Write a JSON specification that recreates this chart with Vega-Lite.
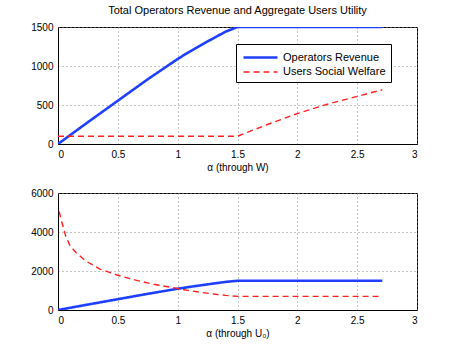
{
  "$schema": "https://vega.github.io/schema/vega-lite/v6.json",
  "padding": {"left": 30, "top": 4, "right": 5, "bottom": 5},
  "spacing": 14,
  "background": "white",
  "config": {
    "font": "Liberation Sans",
    "view": {"stroke": "black", "strokeWidth": 1},
    "axis": {
      "domainColor": "black",
      "labelColor": "black",
      "titleColor": "black",
      "labelFontSize": 10,
      "titleFontSize": 10,
      "titleFontWeight": "normal",
      "grid": true,
      "gridColor": "#888888",
      "gridDash": [1, 3],
      "tickColor": "black",
      "tickSize": 0,
      "labelPadding": 5,
      "titlePadding": 3,
      "format": "~r"
    },
    "title": {"fontSize": 11, "fontWeight": "normal", "color": "black", "offset": 6}
  },
  "datasets": {
    "top": [
      {"alpha": 0, "value": 0, "series": "Operators Revenue"},
      {"alpha": 0.25, "value": 280, "series": "Operators Revenue"},
      {"alpha": 0.5, "value": 555, "series": "Operators Revenue"},
      {"alpha": 0.75, "value": 830, "series": "Operators Revenue"},
      {"alpha": 1, "value": 1090, "series": "Operators Revenue"},
      {"alpha": 1.1, "value": 1185, "series": "Operators Revenue"},
      {"alpha": 1.25, "value": 1315, "series": "Operators Revenue"},
      {"alpha": 1.4, "value": 1440, "series": "Operators Revenue"},
      {"alpha": 1.5, "value": 1500, "series": "Operators Revenue"},
      {"alpha": 2.71, "value": 1500, "series": "Operators Revenue"},
      {"alpha": 0, "value": 100, "series": "Users Social Welfare"},
      {"alpha": 1.5, "value": 100, "series": "Users Social Welfare"},
      {"alpha": 1.75, "value": 250, "series": "Users Social Welfare"},
      {"alpha": 2, "value": 390, "series": "Users Social Welfare"},
      {"alpha": 2.25, "value": 510, "series": "Users Social Welfare"},
      {"alpha": 2.5, "value": 610, "series": "Users Social Welfare"},
      {"alpha": 2.71, "value": 695, "series": "Users Social Welfare"}
    ],
    "bottom": [
      {"alpha": 0, "value": 0, "series": "Operators Revenue"},
      {"alpha": 0.25, "value": 280, "series": "Operators Revenue"},
      {"alpha": 0.5, "value": 555, "series": "Operators Revenue"},
      {"alpha": 0.75, "value": 830, "series": "Operators Revenue"},
      {"alpha": 1, "value": 1090, "series": "Operators Revenue"},
      {"alpha": 1.1, "value": 1185, "series": "Operators Revenue"},
      {"alpha": 1.25, "value": 1315, "series": "Operators Revenue"},
      {"alpha": 1.4, "value": 1440, "series": "Operators Revenue"},
      {"alpha": 1.5, "value": 1500, "series": "Operators Revenue"},
      {"alpha": 2.71, "value": 1500, "series": "Operators Revenue"},
      {"alpha": 0.01, "value": 5050, "series": "Users Social Welfare"},
      {"alpha": 0.03, "value": 4550, "series": "Users Social Welfare"},
      {"alpha": 0.065, "value": 3780, "series": "Users Social Welfare"},
      {"alpha": 0.1, "value": 3300, "series": "Users Social Welfare"},
      {"alpha": 0.15, "value": 2950, "series": "Users Social Welfare"},
      {"alpha": 0.23, "value": 2520, "series": "Users Social Welfare"},
      {"alpha": 0.35, "value": 2100, "series": "Users Social Welfare"},
      {"alpha": 0.5, "value": 1780, "series": "Users Social Welfare"},
      {"alpha": 0.65, "value": 1530, "series": "Users Social Welfare"},
      {"alpha": 0.8, "value": 1320, "series": "Users Social Welfare"},
      {"alpha": 1, "value": 1100, "series": "Users Social Welfare"},
      {"alpha": 1.1, "value": 990, "series": "Users Social Welfare"},
      {"alpha": 1.2, "value": 900, "series": "Users Social Welfare"},
      {"alpha": 1.3, "value": 820, "series": "Users Social Welfare"},
      {"alpha": 1.4, "value": 750, "series": "Users Social Welfare"},
      {"alpha": 1.5, "value": 700, "series": "Users Social Welfare"},
      {"alpha": 2.71, "value": 700, "series": "Users Social Welfare"}
    ]
  },
  "vconcat": [
    {
      "width": 359,
      "height": 117,
      "title": "Total Operators Revenue and Aggregate Users Utility",
      "data": {"name": "top"},
      "mark": {"type": "line", "clip": true},
      "encoding": {
        "x": {"field": "alpha", "type": "quantitative", "title": "α (through W)",
              "scale": {"domain": [0, 3], "nice": false},
              "axis": {"values": [0, 0.5, 1, 1.5, 2, 2.5, 3]}},
        "y": {"field": "value", "type": "quantitative", "title": null,
              "scale": {"domain": [0, 1500], "nice": false},
              "axis": {"values": [0, 500, 1000, 1500]}},
        "color": {"field": "series", "type": "nominal",
                  "scale": {"domain": ["Operators Revenue", "Users Social Welfare"], "range": ["#1f3fff", "#ff2020"]},
                  "legend": {"title": null, "orient": "none", "legendX": 178, "legendY": 17,
                             "fillColor": "white", "strokeColor": "black", "padding": 5,
                             "labelFontSize": 11, "labelColor": "black", "symbolType": "M-2.4,0H2.4",
                             "symbolSize": 200, "symbolStrokeWidth": 2.2, "rowPadding": 1,
                             "symbolOffset": 11, "labelOffset": 14}},
        "strokeDash": {"field": "series", "type": "nominal",
                       "scale": {"domain": ["Operators Revenue", "Users Social Welfare"], "range": [[1, 0], [6, 4]]},
                       "legend": {"title": null, "orient": "none", "legendX": 178, "legendY": 17,
                             "fillColor": "white", "strokeColor": "black", "padding": 5,
                             "labelFontSize": 11, "labelColor": "black", "symbolType": "M-2.4,0H2.4",
                             "symbolSize": 200, "symbolStrokeWidth": 2.2, "rowPadding": 1,
                             "symbolOffset": 11, "labelOffset": 14}},
        "strokeWidth": {"field": "series", "type": "nominal",
                        "scale": {"domain": ["Operators Revenue", "Users Social Welfare"], "range": [2.6, 1.4]},
                        "legend": null}
      }
    },
    {
      "width": 359,
      "height": 117,
      "data": {"name": "bottom"},
      "mark": {"type": "line", "clip": true},
      "encoding": {
        "x": {"field": "alpha", "type": "quantitative", "title": "α (through U₀)",
              "scale": {"domain": [0, 3], "nice": false},
              "axis": {"values": [0, 0.5, 1, 1.5, 2, 2.5, 3]}},
        "y": {"field": "value", "type": "quantitative", "title": null,
              "scale": {"domain": [0, 6000], "nice": false},
              "axis": {"values": [0, 2000, 4000, 6000]}},
        "color": {"field": "series", "type": "nominal", "legend": null},
        "strokeDash": {"field": "series", "type": "nominal", "legend": null},
        "strokeWidth": {"field": "series", "type": "nominal", "legend": null}
      }
    }
  ],
  "resolve": {"scale": {"y": "independent"}}
}
